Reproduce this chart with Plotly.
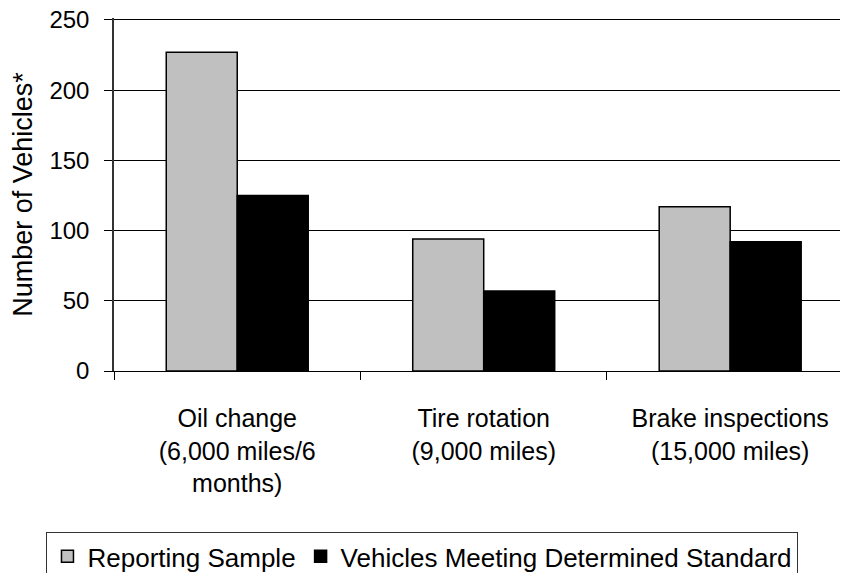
import plotly.graph_objects as go

categories = ["Oil change<br>(6,000 miles/6<br>months)",
              "Tire rotation<br>(9,000 miles)",
              "Brake inspections<br>(15,000 miles)"]
reporting_sample = [227, 94, 117]
meeting_standard = [125, 57, 92]
y_ticks = [0, 50, 100, 150, 200, 250]

FONT = "Liberation Sans, Arial, sans-serif"

fig = go.Figure()
fig.add_trace(go.Bar(
    x=categories, y=reporting_sample, name="Reporting Sample",
    marker=dict(color="#C0C0C0", line=dict(color="#000000", width=1.5)),
))
fig.add_trace(go.Bar(
    x=categories, y=meeting_standard, name="Vehicles Meeting Determined Standard",
    marker=dict(color="#000000", line=dict(color="#000000", width=1.5)),
))

fig.update_layout(
    width=848, height=573,
    margin=dict(l=106, r=8, t=10, b=210, autoexpand=False),
    paper_bgcolor="white", plot_bgcolor="white",
    font=dict(family=FONT, size=24, color="black"),
    barmode="group", bargap=0.424, bargroupgap=0,
    showlegend=True,
    legend=dict(
        orientation="h", x=-0.092, xanchor="left", y=-0.456, yanchor="top",
        bordercolor="#333333", borderwidth=1, font=dict(size=26),
        tracegroupgap=0,
    ),
)
fig.update_xaxes(
    range=[-0.5, 2.478], showline=True, linecolor="#000000", linewidth=1,
    ticks="outside", tickson="boundaries", ticklen=8, tickcolor="#000000",
    showgrid=False, tickfont=dict(size=25), ticklabelstandoff=25,
)
fig.update_yaxes(
    range=[0, 251.4], tickvals=y_ticks, showline=True, linecolor="#333333",
    linewidth=1.5, ticks="outside", ticklen=8, tickcolor="#000000",
    showgrid=True, gridcolor="#000000", gridwidth=1, zeroline=False,
    tickfont=dict(size=24), ticklabelstandoff=10, ticklabeloverflow="allow",
    title=dict(text="Number of Vehicles*", font=dict(size=27), standoff=12),
)

fig.write_html("out.html")
